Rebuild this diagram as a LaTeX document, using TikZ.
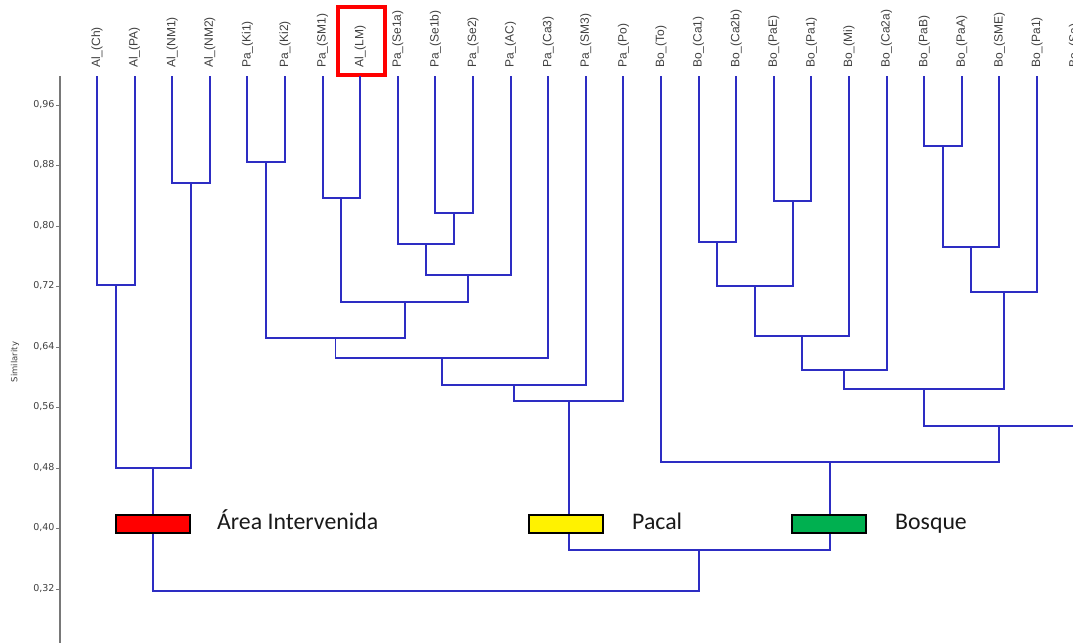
\documentclass[tikz,border=0pt]{standalone}
\usepackage{fontspec}
\setmainfont{Liberation Sans}
\newfontfamily\legfont{Carlito}
\newfontfamily\tickfont{DejaVu Sans}
\definecolor{denblue}{RGB}{45,45,195}
\definecolor{axgray}{RGB}{120,120,120}
\definecolor{leggreen}{RGB}{0,176,80}
\tikzset{
  den/.style={denblue, line width=1.9pt, line join=miter},
  leaflab/.style={rotate=90, anchor=west, inner sep=0pt, text=black!75, font=\fontsize{12}{14}\selectfont},
  ticklab/.style={anchor=east, inner sep=0pt, text=black!75, font=\tickfont\fontsize{9.5}{11}\selectfont},
  legbox/.style={draw=black, line width=1.4pt, minimum width=74pt, minimum height=18pt, inner sep=0pt},
  legtext/.style={anchor=base west, inner sep=0pt, text=black!90, font=\legfont\fontsize{23.8}{27}\selectfont},
}
\newcommand\mrg[4]{\coordinate (#1) at (#2); \draw[den] (#3) |- (#1) -| (#4);}
\begin{document}
\begin{tikzpicture}[x=1pt,y=-1pt]
\path[use as bounding box] (0,0) rectangle (1073,643);
\clip (0,0) rectangle (1073,643);
\fill[white] (0,0) rectangle (1073,643);
% axis
\coordinate (ax0) at (60,76);
\coordinate (ax1) at (60,643);
\draw[axgray, line width=1.3pt] (ax0) -- (ax1);
\foreach \v/\yy in {96/105,88/165,80/226,72/286,64/347,56/407,48/468,40/528,32/589}{
  \coordinate (tk) at (60,\yy);
  \draw[axgray, line width=1pt] (tk) -- ++(-4,0) node[ticklab, xshift=-1pt] {0,\v};
}
\node[rotate=90, inner sep=0pt, text=black!75, font=\tickfont\fontsize{8.5}{10}\selectfont] (ylab) at (15,362) {Similarity};
% leaves
\foreach \lab [count=\i from 0] in {Al\_(Ch),Al\_(PA),Al\_(NM1),Al\_(NM2),Pa\_(Ki1),Pa\_(Ki2),Pa\_(SM1),Al\_(LM),Pa\_(Se1a),Pa\_(Se1b),Pa\_(Se2),Pa\_(AC),Pa\_(Ca3),Pa\_(SM3),Pa\_(Po),Bo\_(To),Bo\_(Ca1),Bo\_(Ca2b),Bo\_(PaE),Bo\_(Pa1),Bo\_(Mi),Bo\_(Ca2a),Bo\_(PaB),Bo\_(PaA),Bo\_(SME),Bo\_(Pa1),Bo\_(Sa)}{
  \coordinate (L\i) at ({97+37.6*\i},76);
  \node[leaflab] (T\i) at ({97+37.6*\i},68) {\lab};
}
% highlight box
\node[draw=red, line width=4pt, minimum width=47pt, minimum height=68pt, inner sep=0pt] (hl) at (361.5,41) {};
% Area intervenida
\mrg{A1}{115.8,285}{L0}{L1}
\mrg{A2}{191,183}{L2}{L3}
\mrg{A3}{153.4,468}{A1}{A2}
% Pacal
\mrg{P1}{266.2,162}{L4}{L5}
\mrg{P2}{341.4,198}{L6}{L7}
\mrg{P3}{454.2,213}{L9}{L10}
\mrg{P4}{426,244}{L8}{P3}
\mrg{P5}{468.3,275}{P4}{L11}
\mrg{P6}{404.85,302}{P2}{P5}
\mrg{P7}{335.5,338}{P1}{P6}
\mrg{P8}{441.9,358}{P7}{L12}
\mrg{P9}{513.8,385}{P8}{L13}
\mrg{P10}{568.6,401}{P9}{L14}
% Bosque
\mrg{B1}{717.4,242}{L16}{L17}
\mrg{B2}{792.6,201}{L18}{L19}
\mrg{B3}{755,286}{B1}{B2}
\mrg{B4}{802,336}{B3}{L20}
\mrg{B5}{844.3,370}{B4}{L21}
\mrg{B6}{943,146}{L22}{L23}
\mrg{B7}{971.2,247}{B6}{L24}
\mrg{B8}{1004.1,292}{B7}{L25}
\mrg{B9}{924.2,389}{B5}{B8}
\mrg{B10}{999.4,426}{B9}{L26}
\mrg{B11}{830.2,462}{L15}{B10}
% top joins
\mrg{C1}{699.4,550}{P10}{B11}
\mrg{R}{426.4,591}{A3}{C1}
% legend
\node[legbox, fill=red] (kA) at (153,524) {};
\node[legtext] (tA) at (217,529) {Área Intervenida};
\node[legbox, fill=yellow] (kP) at (566,524) {};
\node[legtext] (tP) at (632,529) {Pacal};
\node[legbox, fill=leggreen] (kB) at (829,524) {};
\node[legtext] (tB) at (895,529) {Bosque};
\end{tikzpicture}
\end{document}
